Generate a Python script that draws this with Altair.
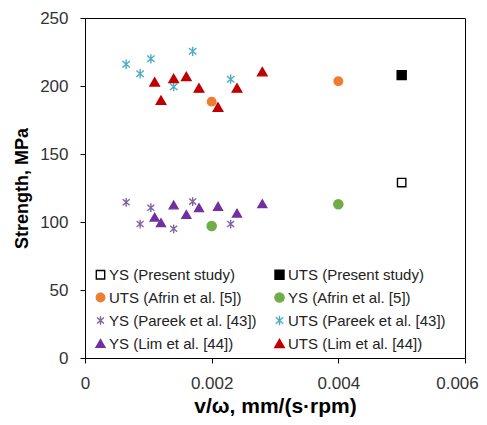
import altair as alt
import pandas as pd

series_names = [
    "YS (Present study)", "UTS (Present study)",
    "UTS (Afrin et al. [5])", "YS (Afrin et al. [5])",
    "YS (Pareek et al. [43])", "UTS (Pareek et al. [43])",
    "YS (Lim et al. [44])", "UTS (Lim et al. [44])",
]

ys_present_x = [0.005]
ys_present_y = [129]
uts_present_x = [0.005]
uts_present_y = [208]

uts_afrin_x = [0.002, 0.004]
uts_afrin_y = [188.5, 203.5]
ys_afrin_x = [0.002, 0.004]
ys_afrin_y = [97, 113]

ys_pareek_x = [0.00065, 0.00087, 0.00104, 0.0014, 0.0017, 0.0023]
ys_pareek_y = [114.5, 98.5, 110.5, 95, 115, 98.5]
uts_pareek_x = [0.00065, 0.00087, 0.00104, 0.0014, 0.0017, 0.0023]
uts_pareek_y = [216, 209, 220, 199.5, 225.5, 205]

ys_lim_x = [0.0011, 0.0012, 0.0014, 0.0016, 0.0018, 0.0021, 0.0024, 0.0028]
ys_lim_y = [103.5, 99.5, 112.5, 105.5, 110.5, 111.5, 106.5, 113.5]
uts_lim_x = [0.0011, 0.0012, 0.0014, 0.0016, 0.0018, 0.0021, 0.0024, 0.0028]
uts_lim_y = [203, 189.5, 205.5, 207, 198.5, 184.5, 198.5, 210.5]

stroke_colors = ["#000000", "#000000", "#ED7D31", "#70AD47", "#8064A2", "#4BACC6", "#7030A0", "#C00000"]
fill_colors = ["#FFFFFF", "#000000", "#ED7D31", "#70AD47", "transparent", "transparent", "#7030A0", "#C00000"]
asterisk = "M0,-1L0,1M-0.8,-0.7L0.8,0.7M-0.8,0.7L0.8,-0.7"
shapes = ["square", "square", "circle", "circle", asterisk, asterisk, "triangle-up", "triangle-up"]
sizes = [70, 70, 90, 90, 130, 130, 110, 110]

xs = [ys_present_x, uts_present_x, uts_afrin_x, ys_afrin_x, ys_pareek_x, uts_pareek_x, ys_lim_x, uts_lim_x]
ys = [ys_present_y, uts_present_y, uts_afrin_y, ys_afrin_y, ys_pareek_y, uts_pareek_y, ys_lim_y, uts_lim_y]

rows = []
for name, xv, yv in zip(series_names, xs, ys):
    for a, b in zip(xv, yv):
        rows.append({"series": name, "x": a, "y": b})
df = pd.DataFrame(rows)

# legend fills column by column: reorder so it reads row by row
order = [0, 2, 4, 6, 1, 3, 5, 7]
dom = [series_names[i] for i in order]
strokes = [stroke_colors[i] for i in order]
fills = [fill_colors[i] for i in order]
shp = [shapes[i] for i in order]
szs = [sizes[i] for i in order]

legend = alt.Legend(
    title=None, orient="none", legendX=8, legendY=249, columns=2,
    labelFontSize=15, labelFont="Liberation Sans", labelColor="#222222",
    symbolSize=80, symbolStrokeWidth=1.4, labelOffset=1,
    rowPadding=7, columnPadding=14, padding=0, symbolOpacity=1,
)

chart = alt.Chart(df).mark_point(filled=False, opacity=1, strokeWidth=1.4).encode(
    x=alt.X("x:Q", scale=alt.Scale(domain=[0, 0.006], nice=False),
            axis=alt.Axis(values=[0, 0.002, 0.004, 0.006], format=".3~f",
                          labelFlush=False, title="v/ω, mm/(s·rpm)",
                          labelOffset={"condition": {"test": "datum.value > 0.0059", "value": -8}, "value": 0})),
    y=alt.Y("y:Q", scale=alt.Scale(domain=[0, 250], nice=False),
            axis=alt.Axis(values=[0, 50, 100, 150, 200, 250], title="Strength, MPa")),
    color=alt.Color("series:N", scale=alt.Scale(domain=dom, range=strokes), legend=legend),
    fill=alt.Fill("series:N", scale=alt.Scale(domain=dom, range=fills), legend=legend),
    shape=alt.Shape("series:N", scale=alt.Scale(domain=dom, range=shp), legend=legend),
    size=alt.Size("series:N", scale=alt.Scale(domain=dom, range=szs), legend=None),
).properties(
    width=380, height=340,
    autosize=alt.AutoSizeParams(type="none"),
    padding={"left": 77, "top": 10, "right": 14, "bottom": 65},
).configure_view(
    stroke="#000000", strokeWidth=1
).configure_axis(
    grid=False, domainColor="#000000", tickColor="#000000", domainWidth=1, tickWidth=1,
    tickSize=5, labelFontSize=17, labelFont="Liberation Sans", labelColor="#333333",
    titleFontSize=21, titleFont="Liberation Sans", titleFontWeight="bold", titleColor="#000000",
).configure_axisY(
    labelPadding=12, titlePadding=8, titleFontSize=18
).configure_axisX(
    labelPadding=12, titlePadding=4
)

chart.save("out.html", embed_options={"renderer": "svg", "actions": False})
